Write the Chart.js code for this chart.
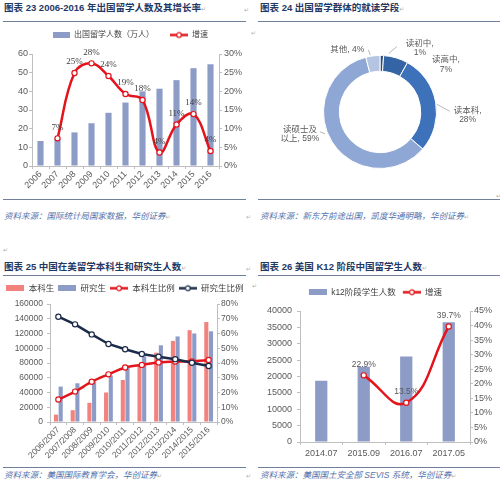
<!DOCTYPE html>
<html><head><meta charset="utf-8">
<script src="https://cdn.jsdelivr.net/npm/chart.js@4.4.1/dist/chart.umd.min.js"></script>
<style>
html,body{margin:0;padding:0;background:#fff}
body{width:500px;height:489px;position:relative;overflow:hidden;font-family:'Liberation Sans','Noto Sans CJK SC',sans-serif}
.t{position:absolute;font-weight:bold;font-size:9.5px;line-height:12px;color:#1F3864;white-space:nowrap}
.hl{position:absolute;height:1px;background:#71809A}
.src{position:absolute;font-style:italic;font-size:8.5px;line-height:10px;color:#5573AC;white-space:nowrap}
.pm{position:absolute;font-size:6px;line-height:7px;color:#B0B0B0;font-family:'DejaVu Sans',sans-serif;font-weight:normal}
.pmi{font-size:6px;color:#B0B0B0;font-family:'DejaVu Sans',sans-serif;font-weight:normal}
canvas{position:absolute}
</style></head><body>

<div class="t" style="left:4px;top:2px">图表 23 2006-2016 年出国留学人数及其增长率<span class="pmi">↵</span></div>
<div class="hl" style="left:3px;top:21px;width:243px"></div>
<div class="pm" style="left:244px;top:6px">↵</div>
<div class="hl" style="left:3px;top:199px;width:243px"></div>
<div class="src" style="left:4px;top:211px">资料来源：国际统计局国家数据，华创证券<span class="pmi">↵</span></div>
<div class="pm" style="left:246px;top:213px">↵</div>

<div class="t" style="left:260px;top:2px">图表 24 出国留学群体的就读学段<span class="pmi">↵</span></div>
<div class="hl" style="left:258px;top:21px;width:242px"></div>
<div class="pm" style="left:251px;top:29px">↵</div>
<div class="hl" style="left:258px;top:199px;width:242px"></div>
<div class="pm" style="left:496px;top:192px">↵</div>
<div class="src" style="left:260px;top:211px">资料来源：新东方前途出国，凯度华通明略，华创证券<span class="pmi">↵</span></div>

<div class="pm" style="left:3px;top:246px">↵</div>
<div class="t" style="left:4px;top:261px">图表 25 中国在美留学本科生和研究生人数<span class="pmi">↵</span></div>
<div class="pm" style="left:246px;top:265px">↵</div>
<div class="hl" style="left:3px;top:275px;width:243px"></div>
<div class="pm" style="left:252px;top:282px">↵</div>
<div class="hl" style="left:3px;top:467px;width:243px"></div>
<div class="src" style="left:4px;top:470px">资料来源：美国国际教育学会，华创证券<span class="pmi">↵</span></div>
<div class="pm" style="left:246px;top:472px">↵</div>

<div class="t" style="left:260px;top:261px">图表 26 美国 K12 阶段中国留学生人数<span class="pmi">↵</span></div>
<div class="hl" style="left:258px;top:275px;width:242px"></div>
<div class="hl" style="left:258px;top:467px;width:242px"></div>
<div class="src" style="left:260px;top:470px">资料来源：美国国土安全部 SEVIS 系统，华创证券<span class="pmi">↵</span></div>

<canvas id="c1" width="250" height="173" style="left:0;top:25px"></canvas>
<canvas id="c2" width="236" height="164" style="left:262px;top:30px"></canvas>
<canvas id="c3" width="250" height="186" style="left:0;top:280px"></canvas>
<canvas id="c4" width="250" height="188" style="left:250px;top:282px"></canvas>

<script>
// ---------- data ----------
const years = ['2006','2007','2008','2009','2010','2011','2012','2013','2014','2015','2016'];
const studentsAbroad = [13.4, 14.4, 18.0, 22.9, 28.5, 34.0, 40.0, 41.4, 46.0, 52.4, 54.5];
const abroadGrowth = [null, 7.4, 24.9, 27.5, 24.1, 19.3, 17.7, 3.6, 11.1, 13.9, 4.0];

const stageNames = ['读初中', '读高中', '读本科', '读硕士及以上', '其他'];
const stageShares = [1, 7, 28, 59, 4];

const schoolYears = ['2006/2007','2007/2008','2008/2009','2009/2010','2010/2011','2011/2012','2012/2013','2013/2014','2014/2015','2015/2016'];
const undergrad = [10000, 16000, 26000, 40000, 57000, 76000, 94000, 110000, 124500, 135500];
const graduate = [48000, 52500, 55000, 63000, 74000, 89000, 104000, 116000, 120000, 123000];
const undergradRatio = [15.3, 20.6, 27.3, 32.3, 37.0, 38.7, 40.4, 41.0, 41.1, 42.0];
const graduateRatio = [71.4, 66.2, 59.4, 52.9, 49.3, 46.1, 44.3, 42.6, 40.2, 38.0];

const k12Dates = ['2014.07', '2015.09', '2016.07', '2017.05'];
const k12Students = [18700, 23000, 26100, 36600];
const k12Growth = [null, 22.9, 13.5, 39.7];

// ---------- style helpers ----------
const FONT = "'Liberation Sans','Noto Sans CJK SC',sans-serif";
const TICK = '#595959';
const AXIS = '#BFBFBF';
const BLUEBAR = '#8D9BC7';
const SALMON = '#F2827D';
const RED = '#E3141B';
const NAVY = '#1C2B4A';
Chart.defaults.font.family = FONT;
Chart.defaults.color = TICK;
Chart.defaults.animation = false;

function barSwatch(color, W, sw, h) {
  const c = document.createElement('canvas'); c.width = W; c.height = h;
  const g = c.getContext('2d'); g.fillStyle = color; g.fillRect(W - sw, 0, sw, h);
  return c;
}
function lineSwatch(color, W, sw) {
  const c = document.createElement('canvas'); c.width = W; c.height = 9;
  const g = c.getContext('2d');
  g.strokeStyle = color; g.lineWidth = 2.5;
  g.beginPath(); g.moveTo(W - sw, 4.5); g.lineTo(W, 4.5); g.stroke();
  g.beginPath(); g.arc(W - sw / 2, 4.5, 2.4, 0, Math.PI * 2);
  g.fillStyle = '#fff'; g.fill(); g.lineWidth = 1.2; g.stroke();
  return c;
}
function legendCfg(swatches, size, pad, W) {
  return {
    display: true, position: 'top',
    labels: {
      usePointStyle: true, pointStyleWidth: W, boxHeight: size, padding: pad,
      font: { size: size, family: FONT }, color: '#404040',
      generateLabels: chart => chart.data.datasets.map((ds, i) => ({
        text: ds.label, pointStyle: swatches[i], fillStyle: 'rgba(0,0,0,0)',
        strokeStyle: 'rgba(0,0,0,0)', lineWidth: 0, hidden: false, datasetIndex: i, fontColor: '#404040'
      }))
    }
  };
}
function spacer(h) {
  return { display: true, text: ' ', font: { size: 1, lineHeight: 1 }, padding: { top: 0, bottom: h - 1 }, weight: 500 };
}
function fixW(w) { return s => { s.width = w; }; }
function fixH(h) { return s => { s.height = h; }; }
const plain = v => String(v);
const pct = v => v + '%';
function axisBase(extra) {
  return Object.assign({
    border: { display: true, color: AXIS, width: 1 },
    grid: { display: true, drawOnChartArea: false, drawTicks: true, tickLength: 3, color: AXIS }
  }, extra);
}

const pointLabels = {
  id: 'pointLabels',
  afterDatasetsDraw(chart, args, opts) {
    if (!opts || opts.dataset === undefined) return;
    const meta = chart.getDatasetMeta(opts.dataset);
    const vals = chart.data.datasets[opts.dataset].data;
    const ctx = chart.ctx; ctx.save();
    ctx.font = opts.font; ctx.fillStyle = opts.color;
    ctx.textAlign = 'center'; ctx.textBaseline = 'middle';
    meta.data.forEach((pt, i) => {
      if (vals[i] === null || vals[i] === undefined) return;
      ctx.fillText(opts.format(vals[i]), pt.x, pt.y + opts.dy);
    });
    ctx.restore();
  }
};

// ---------- chart 1 ----------
new Chart(document.getElementById('c1'), {
  type: 'bar',
  data: {
    labels: years,
    datasets: [
      { type: 'bar', label: '出国留学人数（万人）', data: studentsAbroad, backgroundColor: BLUEBAR,
        yAxisID: 'y', order: 2, categoryPercentage: 0.8, barPercentage: 0.45 },
      { type: 'line', label: '增速', data: abroadGrowth, yAxisID: 'y1', order: 1,
        borderColor: RED, borderWidth: 2.5, tension: 0.4, cubicInterpolationMode: 'default',
        pointRadius: 2.6, pointBackgroundColor: '#fff', pointBorderColor: RED, pointBorderWidth: 1.2 }
    ]
  },
  options: {
    responsive: false,
    layout: { padding: 0 },
    plugins: {
      legend: legendCfg([barSwatch(BLUEBAR, 28, 17, 6), lineSwatch(RED, 28, 18)], 8, 6, 28),
      subtitle: spacer(5),
      tooltip: { enabled: false },
      pointLabels: { dataset: 1, dy: -11, font: "9px 'Liberation Serif'", color: '#404040',
        format: v => Math.round(v) + '%' }
    },
    scales: {
      x: axisBase({ ticks: { color: TICK, font: { size: 9 }, minRotation: 45, maxRotation: 45, autoSkip: false, padding: 0 },
        afterFit: fixH(32) }),
      y: axisBase({ position: 'left', min: 0, max: 60, ticks: { stepSize: 10, color: TICK, font: { size: 9 }, padding: 1, callback: plain },
        afterFit: fixW(32) }),
      y1: axisBase({ position: 'right', min: 0, max: 30, ticks: { stepSize: 5, color: TICK, font: { size: 9 }, padding: 2,
        callback: pct }, afterFit: fixW(31) })
    }
  },
  plugins: [pointLabels]
});

// ---------- chart 2 (doughnut) ----------
const donutLabels = {
  id: 'donutLabels',
  afterDatasetsDraw(chart, args, opts) {
    const ctx = chart.ctx; const meta = chart.getDatasetMeta(0);
    const vals = chart.data.datasets[0].data;
    ctx.save();
    ctx.font = opts.font; ctx.fillStyle = opts.color; ctx.strokeStyle = opts.lineColor;
    ctx.lineWidth = 0.8; ctx.textBaseline = 'middle'; ctx.textAlign = 'center';
    meta.data.forEach((arc, i) => {
      const p = arc.getProps(['x', 'y', 'startAngle', 'endAngle', 'outerRadius'], true);
      const mid = (p.startAngle + p.endAngle) / 2;
      const ex = p.x + Math.cos(mid) * p.outerRadius;
      const ey = p.y + Math.sin(mid) * p.outerRadius;
      const L = opts.place[i];
      if (L.lead) {
        ctx.beginPath(); ctx.moveTo(ex + L.lead[0], ey + L.lead[1]);
        ctx.lineTo(ex + L.lead[2], ey + L.lead[3]); ctx.stroke();
      }
      const full = chart.data.labels[i] + ', ' + vals[i] + '%';
      const lines = L.br ? [full.slice(0, L.br), full.slice(L.br).trim()] : [full];
      lines.forEach((s, k) => ctx.fillText(s, ex + L.dx, ey + L.dy + k * opts.lineHeight));
    });
    ctx.restore();
  }
};
new Chart(document.getElementById('c2'), {
  type: 'doughnut',
  data: {
    labels: stageNames,
    datasets: [{ data: stageShares,
      backgroundColor: ['#2B4D7E', '#3464A3', '#3D72BA', '#8EA7D5', '#B4C4E2'],
      borderColor: '#fff', borderWidth: 1 }]
  },
  options: {
    responsive: false, cutout: '72%',
    layout: { padding: { top: 25, bottom: 25, left: 50, right: 50 } },
    plugins: {
      legend: { display: false }, tooltip: { enabled: false },
      donutLabels: {
        font: "8.5px 'Liberation Sans','Noto Sans CJK SC'", color: '#595959', lineColor: '#A6A6A6', lineHeight: 9.5,
        place: [
          { dx: 38, dy: -12, br: 4, lead: [7, -2, 15, -9] },
          { dx: 50, dy: 2, br: 4, lead: null },
          { dx: 32, dy: 8, br: 4, lead: [1, 2, 14, 9] },
          { dx: -32, dy: -12.5, br: 4, lead: [-12, -10, -7, -8] },
          { dx: -25.5, dy: -6.5, br: 0, lead: [-4.5, -6, -2.5, -1] }
        ]
      }
    }
  },
  plugins: [donutLabels]
});

// ---------- chart 3 ----------
new Chart(document.getElementById('c3'), {
  type: 'bar',
  data: {
    labels: schoolYears,
    datasets: [
      { type: 'bar', label: '本科生', data: undergrad, backgroundColor: SALMON, yAxisID: 'y', order: 3,
        categoryPercentage: 0.56, barPercentage: 0.88 },
      { type: 'bar', label: '研究生', data: graduate, backgroundColor: BLUEBAR, yAxisID: 'y', order: 3,
        categoryPercentage: 0.56, barPercentage: 0.88 },
      { type: 'line', label: '本科生比例', data: undergradRatio, yAxisID: 'y1', order: 2,
        borderColor: RED, borderWidth: 2.5, tension: 0.3,
        pointRadius: 2.6, pointBackgroundColor: '#fff', pointBorderColor: RED, pointBorderWidth: 1.2 },
      { type: 'line', label: '研究生比例', data: graduateRatio, yAxisID: 'y1', order: 1,
        borderColor: NAVY, borderWidth: 2.5, tension: 0,
        pointRadius: 2.6, pointBackgroundColor: '#fff', pointBorderColor: NAVY, pointBorderWidth: 1.2 }
    ]
  },
  options: {
    responsive: false,
    layout: { padding: 0 },
    plugins: {
      legend: legendCfg([barSwatch(SALMON, 18, 18, 6), barSwatch(BLUEBAR, 18, 18, 6),
                         lineSwatch(RED, 18, 18), lineSwatch(NAVY, 18, 18)], 8.5, 4, 18),
      subtitle: spacer(1.5),
      tooltip: { enabled: false }
    },
    scales: {
      x: axisBase({ ticks: { color: TICK, font: { size: 8.5 }, minRotation: 45, maxRotation: 45, autoSkip: false, padding: 0 },
        afterFit: fixH(44) }),
      y: axisBase({ position: 'left', min: 0, max: 160000, ticks: { stepSize: 20000, color: TICK, font: { size: 8.5 }, padding: 4, callback: plain },
        afterFit: fixW(50) }),
      y1: axisBase({ position: 'right', min: 0, max: 80, ticks: { stepSize: 10, color: TICK, font: { size: 8.5 }, padding: 1,
        callback: pct }, afterFit: fixW(33) })
    }
  }
});

// ---------- chart 4 ----------
new Chart(document.getElementById('c4'), {
  type: 'bar',
  data: {
    labels: k12Dates,
    datasets: [
      { type: 'bar', label: 'k12阶段学生人数', data: k12Students, backgroundColor: BLUEBAR, yAxisID: 'y', order: 2,
        categoryPercentage: 0.8, barPercentage: 0.36 },
      { type: 'line', label: '增速', data: k12Growth, yAxisID: 'y1', order: 1,
        borderColor: RED, borderWidth: 2.5, tension: 0.45,
        pointRadius: 2.6, pointBackgroundColor: '#fff', pointBorderColor: RED, pointBorderWidth: 1.2 }
    ]
  },
  options: {
    responsive: false,
    layout: { padding: 0 },
    plugins: {
      legend: legendCfg([barSwatch(BLUEBAR, 19, 18, 6), lineSwatch(RED, 19, 18)], 8.5, 6, 19),
      subtitle: spacer(4.5),
      tooltip: { enabled: false },
      pointLabels: { dataset: 1, dy: -11, font: "8.5px 'Liberation Sans'", color: '#595959',
        format: v => v.toFixed(1) + '%' }
    },
    scales: {
      x: axisBase({ ticks: { color: TICK, font: { size: 9 }, minRotation: 0, maxRotation: 0, padding: 3 },
        afterFit: fixH(28) }),
      y: axisBase({ position: 'left', min: 0, max: 40000, ticks: { stepSize: 5000, color: TICK, font: { size: 9 }, padding: 5, callback: plain },
        afterFit: fixW(50) }),
      y1: axisBase({ position: 'right', min: 0, max: 45, ticks: { stepSize: 5, color: TICK, font: { size: 9 }, padding: 1,
        callback: pct }, afterFit: fixW(30) })
    }
  },
  plugins: [pointLabels]
});
</script>
</body></html>
